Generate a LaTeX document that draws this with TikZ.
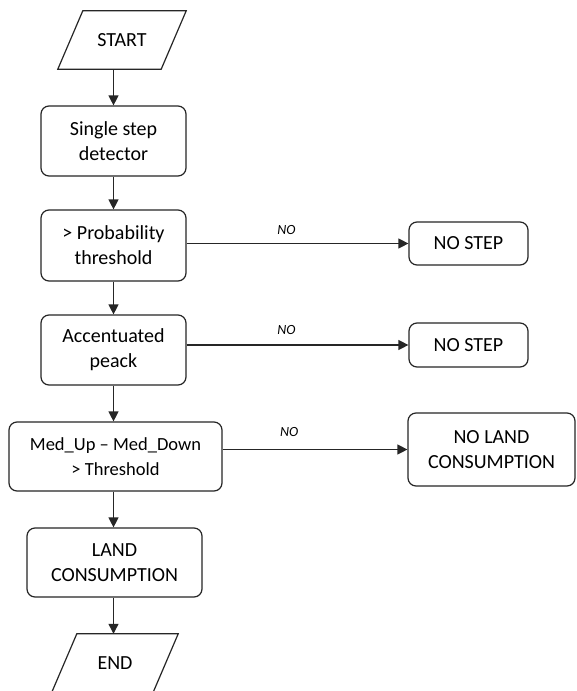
\documentclass[tikz,border=0pt]{standalone}
\usepackage{fontspec}
\setmainfont{Carlito}
\usetikzlibrary{arrows.meta}
\tikzset{
  x=1pt, y=-1pt,
  box/.style={draw=black!85, line width=1.2pt, rounded corners=8pt, align=center,
    font=\fontsize{20}{25}\selectfont, inner sep=0pt},
  plain/.style={align=center, font=\fontsize{20}{25}\selectfont, inner sep=0pt},
  arr/.style={draw=black!85, line width=1.2pt, -{Triangle[length=10pt,width=10pt]}},
  lbl/.style={font=\fontsize{14}{16}\itshape\selectfont, inner sep=0pt},
  para/.style={draw=black!85, line width=1.2pt, line join=miter}
}
\begin{document}
\begin{tikzpicture}
\clip (0,0) rectangle (576,691);
\fill[white] (0,0) rectangle (576,691);
% start
\node[plain, minimum width=103, minimum height=58] (start) at (122,40) {START};
\draw[para] ([xshift=12.5pt]start.north west) -- ([xshift=12.5pt]start.north east)
  -- ([xshift=-12.5pt]start.south east) -- ([xshift=-12.5pt]start.south west) -- cycle;
\node[box, minimum width=145, minimum height=70] (sd) at (113.5,141) {Single step\\detector};
\node[box, minimum width=145, minimum height=71] (prob) at (113.5,245.5) {> Probability\\threshold};
\node[box, minimum width=145, minimum height=70] (acc) at (113.5,350) {Accentuated\\peack};
\node[box, minimum width=213, minimum height=69, font=\fontsize{18.5}{25}\selectfont] (med) at (115.5,456.5) {Med\_Up -- Med\_Down\\> Threshold};
\node[box, minimum width=175, minimum height=69] (land) at (114.5,562.5) {LAND\\CONSUMPTION};
\node[plain, minimum width=101, minimum height=58] (end) at (115,663) {END};
\draw[para] ([xshift=12.5pt]end.north west) -- ([xshift=12.5pt]end.north east)
  -- ([xshift=-12.5pt]end.south east) -- ([xshift=-12.5pt]end.south west) -- cycle;
\node[box, minimum width=119, minimum height=43] (ns1) at (468.5,243.5) {NO STEP};
\node[box, minimum width=119, minimum height=44] (ns2) at (468.5,345) {NO STEP};
\node[box, minimum width=167, minimum height=73] (nol) at (491.5,449.5) {NO LAND\\CONSUMPTION};
% vertical arrows
\draw[arr] (sd.north |- start.south) -- (sd.north);
\draw[arr] (sd.south) -- (prob.north);
\draw[arr] (prob.south) -- (acc.north);
\draw[arr] (acc.south) -- (acc.south |- med.north);
\draw[arr] (acc.south |- med.south) -- (acc.south |- land.north);
\draw[arr] (acc.south |- land.south) -- (acc.south |- end.north);
% horizontal NO arrows
\draw[arr] (prob.east |- ns1.west) -- node[lbl, pos=0.45, above=8pt] {NO} (ns1.west);
\draw[arr] (acc.east |- ns2.west) -- node[lbl, pos=0.45, above=10pt] {NO} (ns2.west);
\draw[arr] (med.east |- nol.west) -- node[lbl, pos=0.36, above=12pt] {NO} (nol.west);
\end{tikzpicture}
\end{document}
